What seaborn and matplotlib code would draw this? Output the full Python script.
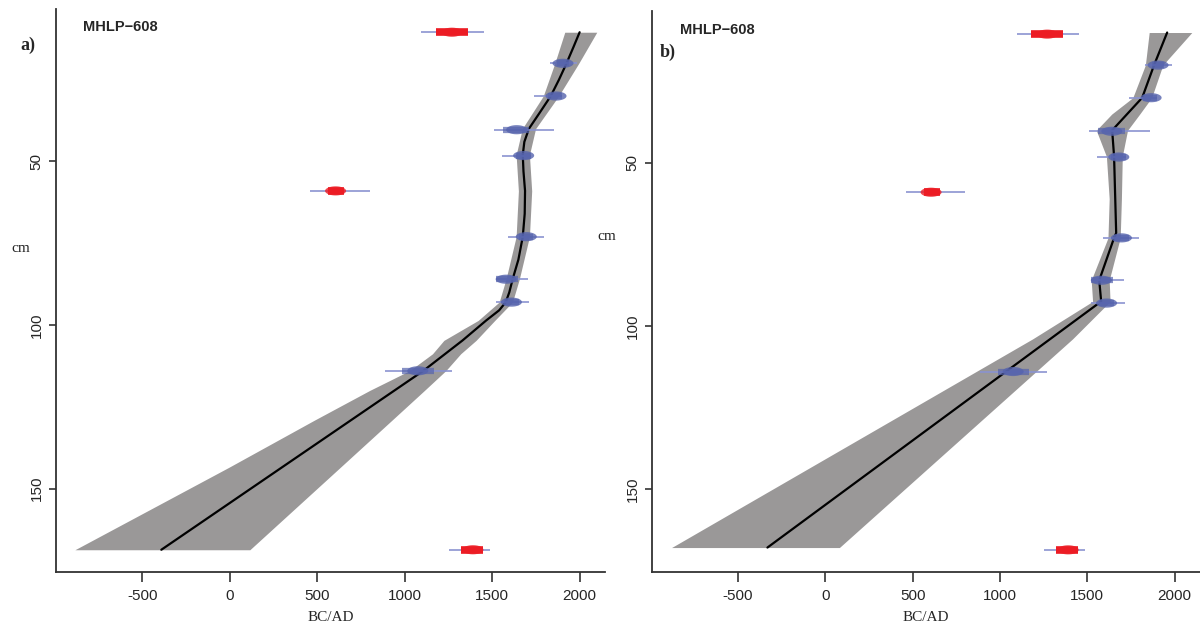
import numpy as np
import pandas as pd
import matplotlib
matplotlib.use("Agg")
import matplotlib.pyplot as plt
from matplotlib.path import Path
import seaborn as sns

# ---- radiocarbon dates: depth (cm) and calibrated ranges (BC/AD) ----
date_depth = [10.5, 20, 30, 40.3, 48.2, 59, 73, 86, 93, 114, 168.7]
date_kind = ["outlier", "date", "date", "date", "date", "outlier",
             "date", "date", "date", "date", "outlier"]
date_mode = [1270, 1905, 1865, 1640, 1680, 605, 1695, 1580, 1610, 1075, 1390]
date_lo95 = [1096, 1828, 1741, 1511, 1556, 460, 1590, 1523, 1523, 885, 1253]
date_hi95 = [1452, 1983, 1897, 1856, 1724, 799, 1797, 1707, 1713, 1268, 1489]
date_lo68 = [1178, 1870, 1820, 1563, 1638, 563, 1655, 1523, 1569, 987, 1322]
date_hi68 = [1360, 1940, 1897, 1713, 1724, 655, 1736, 1648, 1655, 1167, 1448]

# ---- a) smooth-spline age model ----
smooth_depth = [10.5, 15, 20, 25, 30, 35, 40, 44, 48, 53, 59, 66, 73, 80,
                86, 90, 93, 95.5, 98.6, 104.7, 113.9, 168.7]
smooth_age = [2000, 1965, 1925, 1882, 1835, 1773, 1710, 1684, 1675, 1679,
              1688, 1686, 1675, 1650, 1617, 1598, 1578, 1540, 1466, 1331,
              1109, -391]
smooth_band_depth = [10.5, 20, 30, 40, 48, 59, 73, 86, 93, 98.6, 104.7,
                     108.8, 113.9, 120, 129.2, 143.5, 168.7]
smooth_band_lo = [1915, 1858, 1792, 1672, 1637, 1650, 1637, 1579, 1540,
                  1420, 1224, 1159, 1030, 800, 480, -5, -885]
smooth_band_hi = [2098, 1995, 1880, 1748, 1713, 1726, 1713, 1655, 1616,
                  1515, 1408, 1320, 1236, 1113, 925, 632, 115]

# ---- b) linear-interpolation age model ----
linear_depth = [10, 20, 30, 40, 48, 71.5, 73, 86, 92.5, 168]
linear_age = [1957, 1882, 1814, 1642, 1653, 1665, 1653, 1568, 1579, -332]
linear_band_depth = [10, 20, 30, 35, 40, 48, 61, 73, 86, 92.5, 104, 168]
linear_band_lo = [1854, 1832, 1760, 1640, 1551, 1609, 1625, 1618, 1522,
                  1530, 1186, -881]
linear_band_hi = [2098, 1932, 1868, 1800, 1730, 1700, 1695, 1688, 1625,
                  1630, 1415, 80]

x_ticks = [-500, 0, 500, 1000, 1500, 2000]
y_ticks = [50, 100, 150]
core_name = "MHLP\u2212608"

BLUE_THIN = "#8a93d0"
BLUE = "#5563ad"
RED = "#ec1c24"
BAND = "#9a9898"

sns.set_theme(style="white")
plt.rcParams["font.family"] = ["Liberation Sans", "DejaVu Sans"]

dates = pd.DataFrame({
    "depth": date_depth, "kind": date_kind, "mode": date_mode,
    "lo95": date_lo95, "hi95": date_hi95, "lo68": date_lo68, "hi68": date_hi68,
})

t = np.linspace(0, 2 * np.pi, 40)
ellipse = Path(np.column_stack([2.3 * np.cos(t), np.sin(t)]), closed=True)


def draw_panel(ax, mdepth, mage, bdepth, blo, bhi):
    ax.fill_betweenx(bdepth, blo, bhi, color=BAND, lw=0, zorder=1)
    sns.lineplot(x=mage, y=mdepth, sort=False, orient="y", color="black",
                 lw=1.6, ax=ax, zorder=3)

    blue = dates[dates["kind"] == "date"]
    red = dates[dates["kind"] == "outlier"]
    ax.hlines(dates["depth"], dates["lo95"], dates["hi95"], color=BLUE_THIN,
              lw=1.4, alpha=0.85, zorder=4)
    ax.hlines(blue["depth"], blue["lo68"], blue["hi68"], color=BLUE,
              lw=4.5, alpha=0.7, zorder=5)
    ax.hlines(red["depth"], red["lo68"], red["hi68"], color=RED,
              lw=5.5, zorder=6)
    sns.scatterplot(data=dates, x="mode", y="depth", hue="kind",
                    palette={"date": BLUE, "outlier": RED}, marker=ellipse,
                    s=230, linewidth=0, alpha=0.8, legend=False, ax=ax,
                    zorder=7)

    ax.set_xlim(-993, 2145)
    ax.set_ylim(175.5, 3.4)
    ax.set_xticks(x_ticks)
    ax.set_xticklabels([str(v) for v in x_ticks])
    ax.set_yticks(y_ticks)
    ax.set_yticklabels([str(v) for v in y_ticks], rotation=90, va="center")
    ax.tick_params(axis="x", length=7, width=1.1, color="#222222",
                   labelsize=11, pad=5, direction="out", bottom=True)
    ax.tick_params(axis="y", length=5, width=1.1, color="#222222",
                   labelsize=11, pad=4, direction="out", left=True)
    for s in ("top", "right"):
        ax.spines[s].set_visible(False)
    for s in ("left", "bottom"):
        ax.spines[s].set_color("#333333")
        ax.spines[s].set_linewidth(1.3)
    ax.set_ylabel("")
    ax.set_xlabel("BC/AD", family=["Liberation Serif", "DejaVu Serif"],
                  fontsize=11, labelpad=6)


fig = plt.figure(figsize=(12, 6.26), dpi=100)
ax_a = fig.add_axes([56 / 1200, 54 / 626, 549 / 1200, 563 / 626])
ax_b = fig.add_axes([652 / 1200, 54 / 626, 548 / 1200, 561 / 626])

draw_panel(ax_a, smooth_depth, smooth_age, smooth_band_depth,
           smooth_band_lo, smooth_band_hi)
draw_panel(ax_b, linear_depth, linear_age, linear_band_depth,
           linear_band_lo, linear_band_hi)

serif = ["Liberation Serif", "DejaVu Serif"]
ax_a.text(0.049, 0.968, core_name, transform=ax_a.transAxes, fontsize=10.5,
          fontweight="bold", va="center", ha="left")
ax_b.text(0.051, 0.966, core_name, transform=ax_b.transAxes, fontsize=10.5,
          fontweight="bold", va="center", ha="left")
fig.text(20 / 1200, 1 - 45 / 626, "a)", family=serif, fontsize=13,
         fontweight="bold", va="center", ha="left")
ax_b.text(0.0146, 0.927, "b)", transform=ax_b.transAxes, family=serif,
          fontsize=13, fontweight="bold", va="center", ha="left")
fig.text(21 / 1200, 1 - 248 / 626, "cm", family=serif, fontsize=11,
         va="center", ha="center")
fig.text(607 / 1200, 1 - 237 / 626, "cm", family=serif, fontsize=11,
         va="center", ha="center")

fig.savefig("out.png", dpi=100, facecolor="white")
